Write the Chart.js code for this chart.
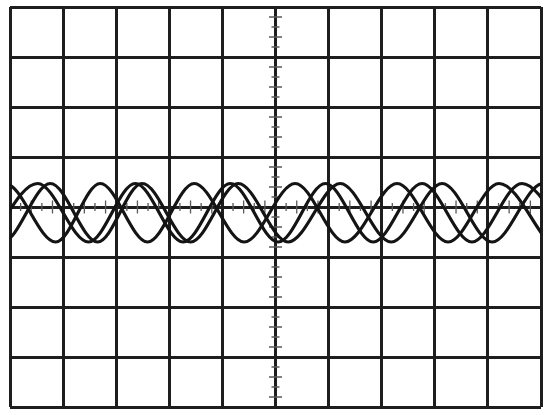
<!DOCTYPE html>
<html lang="en">
<head>
<meta charset="UTF-8">
<title>Scope traces</title>
<script src="https://cdn.jsdelivr.net/npm/chart.js"></script>
<style>
  html, body { margin: 0; padding: 0; background: #fff; }
  .wrap { width: 550px; height: 415px; position: relative; }
</style>
</head>
<body>
<div class="wrap"><canvas id="scope"></canvas></div>
<script>
// screen is 10 divisions across, 8 down, origin in the middle
const xRange = [0, 10];
const yRange = [-4, 4];

const traceA_x = [-0.99, -0.09, 0.86, 1.70, 2.59, 3.47, 4.41, 5.37, 6.31, 7.29, 8.25, 9.21, 10.13];
const traceA_y = [-0.70, 0.47, -0.70, 0.47, -0.70, 0.47, -0.70, 0.47, -0.70, 0.47, -0.70, 0.47, -0.70];

const traceB_x = [-0.41, 0.52, 1.48, 2.36, 3.26, 4.15, 5.05, 5.94, 6.84, 7.76, 8.70, 9.64, 10.58];
const traceB_y = [-0.70, 0.47, -0.70, 0.47, -0.70, 0.47, -0.70, 0.47, -0.70, 0.47, -0.70, 0.47, -0.70];

const traceC_x = [-1.03, -0.14, 0.76, 1.65, 2.49, 3.40, 4.30, 5.24, 6.22, 7.18, 8.14, 9.08, 10.04, 10.98];
const traceC_y = [0.47, -0.70, 0.47, -0.70, 0.47, -0.70, 0.47, -0.70, 0.47, -0.70, 0.47, -0.70, 0.47, -0.70];

const toPoints = (xs, ys) => xs.map((x, i) => ({ x: x, y: ys[i] }));

function trace(xs, ys) {
  return {
    data: toPoints(xs, ys),
    borderColor: '#141414',
    borderWidth: 3.2,
    pointRadius: 0,
    fill: false,
    cubicInterpolationMode: 'monotone',
    clip: 0
  };
}

// small graticule marks along the two centre lines, 5 per division
const centreTicks = {
  id: 'centreTicks',
  beforeDatasetsDraw(chart) {
    const { ctx, scales: { x, y } } = chart;
    const cx = x.getPixelForValue(5);
    const cy = y.getPixelForValue(0);
    ctx.save();
    ctx.strokeStyle = '#5a5a5a';
    ctx.lineWidth = 1.3;
    ctx.beginPath();
    for (let k = 1; k < 50; k++) {
      if (k % 5 === 0) continue;
      const len = (k % 5) % 2 ? 4 : 6.5;
      const px = x.getPixelForValue(k / 5);
      ctx.moveTo(px, cy - len);
      ctx.lineTo(px, cy + len);
    }
    for (let k = -19; k < 20; k++) {
      if (k % 5 === 0) continue;
      const len = Math.abs(k % 5) % 2 ? 4 : 6.5;
      const py = y.getPixelForValue(k / 5);
      ctx.moveTo(cx - len, py);
      ctx.lineTo(cx + len, py);
    }
    ctx.stroke();
    ctx.restore();
  }
};

// fix the visible window after data limits so points past the edges still draw
function lockRange(range) {
  return function (scale) {
    scale.min = range[0];
    scale.max = range[1];
  };
}

const gridStyle = { color: '#1e1e1e', lineWidth: 3, drawTicks: false };

new Chart(document.getElementById('scope'), {
  type: 'line',
  data: {
    datasets: [
      trace(traceA_x, traceA_y),
      trace(traceB_x, traceB_y),
      trace(traceC_x, traceC_y)
    ]
  },
  options: {
    responsive: true,
    maintainAspectRatio: false,
    animation: false,
    layout: { padding: { left: 10, right: 9, top: 7, bottom: 8 } },
    elements: { line: { capBezierPoints: false } },
    plugins: { legend: { display: false }, tooltip: { enabled: false } },
    scales: {
      x: {
        type: 'linear',
        afterDataLimits: lockRange(xRange),
        ticks: { display: false, stepSize: 1 },
        grid: gridStyle,
        border: { display: false }
      },
      y: {
        type: 'linear',
        afterDataLimits: lockRange(yRange),
        ticks: { display: false, stepSize: 1 },
        grid: gridStyle,
        border: { display: false }
      }
    }
  },
  plugins: [centreTicks]
});
</script>
</body>
</html>
